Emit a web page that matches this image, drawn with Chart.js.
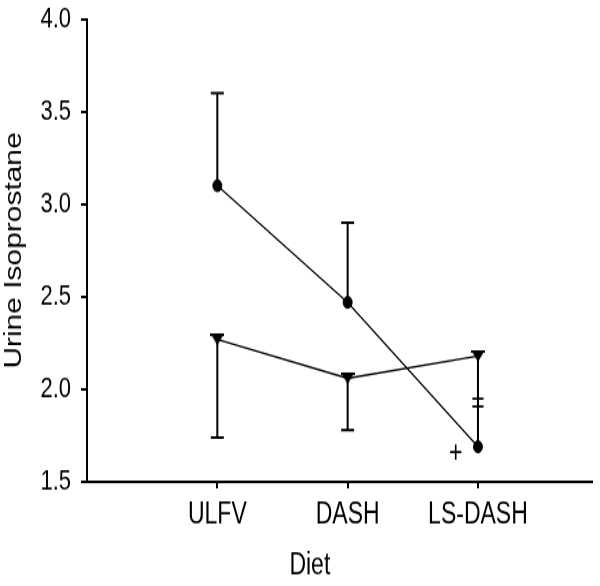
<!DOCTYPE html>
<html>
<head>
<meta charset="utf-8">
<title>Urine Isoprostane by Diet</title>
<script src="https://cdn.jsdelivr.net/npm/chart.js@4"></script>
<style>
  html, body { margin: 0; padding: 0; background: #fff; }
  #chart { display: block; }
</style>
</head>
<body>
<!-- drawn at 600x450 and stretched to 600x586 like the original figure -->
<canvas id="chart" width="600" height="450" style="width:600px;height:586px"></canvas>
<script>
  // --- Data ---
  const categories = ["ULFV", "DASH", "LS-DASH"];
  const circleMean = [3.10, 2.47, 1.69];
  const circleUpper = [3.60, 2.90, null];
  const triangleMean = [2.27, 2.06, 2.18];
  const triangleLower = [1.74, 1.78, 1.69];
  const triangleLowerCap = [true, true, false];
  const yTicks = [1.5, 2.0, 2.5, 3.0, 3.5, 4.0];
  // significance marks: [text, category position, value]
  const marks = [["+", 2.83, 1.65], ["=", 3, 1.92]];

  const FONT = "'Liberation Sans', Arial, sans-serif";

  // flat down-pointing triangle marker
  function triangleMarker() {
    const c = document.createElement("canvas");
    c.width = 14;
    c.height = 9;
    const g = c.getContext("2d");
    g.fillStyle = "#000";
    g.fillRect(0, 0, 14, 2);
    g.beginPath();
    g.moveTo(1, 1);
    g.lineTo(13, 1);
    g.lineTo(7, 9);
    g.closePath();
    g.fill();
    return c;
  }

  // Error bars + marks
  const errorBars = {
    id: "errorBars",
    beforeDatasetsDraw(chart) {
      const ctx = chart.ctx;
      const xs = chart.scales.x;
      const ys = chart.scales.y;
      ctx.save();
      ctx.strokeStyle = "#000";
      ctx.lineWidth = 2;
      function bar(i, from, to, cap) {
        if (to === null) return;
        const x = xs.getPixelForValue(i + 1);
        const y0 = ys.getPixelForValue(from);
        const y1 = ys.getPixelForValue(to);
        ctx.beginPath();
        ctx.moveTo(x, y0);
        ctx.lineTo(x, y1);
        if (cap) {
          ctx.moveTo(x - 6.5, y1);
          ctx.lineTo(x + 6.5, y1);
        }
        ctx.stroke();
      }
      categories.forEach((c, i) => {
        bar(i, circleMean[i], circleUpper[i], true);
        bar(i, triangleMean[i], triangleLower[i], triangleLowerCap[i]);
      });
      ctx.restore();
    },
    afterDraw(chart) {
      const ctx = chart.ctx;
      const xs = chart.scales.x;
      const ys = chart.scales.y;
      ctx.save();
      ctx.fillStyle = "#000";
      ctx.textAlign = "center";
      ctx.textBaseline = "middle";
      ctx.font = "23px " + FONT;
      marks.forEach((m) => {
        ctx.fillText(m[0], xs.getPixelForValue(m[1]), ys.getPixelForValue(m[2]));
      });
      // x axis title, set a little left of centre as in the original
      ctx.fillText("Diet", xs.getPixelForValue(1.71), chart.chartArea.bottom + 65);
      ctx.restore();
    },
  };

  new Chart(document.getElementById("chart"), {
    type: "line",
    data: {
      datasets: [
        {
          label: "circle",
          data: circleMean.map((v, i) => ({ x: i + 1, y: v })),
          borderColor: "#000",
          borderWidth: 1.3,
          pointStyle: "circle",
          pointRadius: 4.5,
          pointBackgroundColor: "#000",
          pointBorderColor: "#000",
          pointBorderWidth: 1,
          tension: 0,
        },
        {
          label: "triangle",
          data: triangleMean.map((v, i) => ({ x: i + 1, y: v })),
          borderColor: "#000",
          borderWidth: 1.3,
          pointStyle: triangleMarker(),
          tension: 0,
        },
      ],
    },
    options: {
      responsive: false,
      animation: false,
      events: [],
      layout: { padding: { top: 14.6, right: 8, left: 0, bottom: 0 } },
      plugins: {
        legend: { display: false },
        tooltip: { enabled: false },
      },
      scales: {
        x: {
          type: "linear",
          min: 0,
          max: 3.875,
          afterBuildTicks: (scale) => {
            scale.ticks = categories.map((c, i) => ({ value: i + 1 }));
          },
          afterFit: (scale) => {
            scale.height = 79.9;
            scale.paddingLeft = 0;
            scale.paddingRight = 0;
          },
          border: { display: true, color: "#000", width: 2 },
          grid: {
            drawOnChartArea: false,
            drawTicks: true,
            tickLength: 5,
            color: "#000",
            lineWidth: 2,
          },
          ticks: {
            autoSkip: false,
            maxRotation: 0,
            padding: 7,
            color: "#000",
            font: { family: FONT, size: 23 },
            callback: (v) => categories[Math.round(v) - 1] || "",
          },
        },
        y: {
          min: 1.5,
          max: 4.0,
          afterBuildTicks: (scale) => {
            scale.ticks = yTicks.map((v) => ({ value: v }));
          },
          afterFit: (scale) => {
            scale.width = 87;
            scale.paddingTop = 0;
            scale.paddingBottom = 0;
          },
          border: { display: true, color: "#000", width: 2 },
          grid: {
            drawOnChartArea: false,
            drawTicks: true,
            tickLength: 6,
            color: "#000",
            lineWidth: 2,
          },
          ticks: {
            padding: 10,
            color: "#000",
            font: { family: FONT, size: 22 },
            callback: (v) => Number(v).toFixed(1),
          },
          title: {
            display: true,
            text: "Urine Isoprostane",
            color: "#000",
            font: { family: FONT, size: 23 },
            padding: { top: 1, bottom: 0 },
          },
        },
      },
    },
    plugins: [errorBars],
  });
</script>
</body>
</html>
